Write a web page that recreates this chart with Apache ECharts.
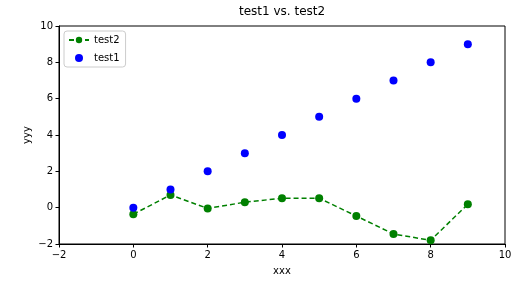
<!DOCTYPE html>
<html>
<head>
<meta charset="utf-8">
<script src="https://cdn.jsdelivr.net/npm/echarts@6/dist/echarts.min.js"></script>
<style>html,body{margin:0;padding:0;background:#fff;}#c{width:531px;height:282px;}</style>
</head>
<body>
<div id="c"></div>
<script>
var xs = [0, 1, 2, 3, 4, 5, 6, 7, 8, 9];
var test1 = [0, 1, 2, 3, 4, 5, 6, 7, 8, 9];
var test2 = [-0.36, 0.70, -0.04, 0.30, 0.52, 0.52, -0.46, -1.45, -1.80, 0.19];

function pairs(x, y) { return x.map(function (v, i) { return [v, y[i]]; }); }
function fmt(v) { return String(v).replace('-', '\u2212'); }

var font = 'DejaVu Sans';
var chart = echarts.init(document.getElementById('c'), null, {renderer: 'canvas'});
var axisCommon = {
  type: 'value', min: -2, max: 10, interval: 2,
  axisLine: {show: true, onZero: false, lineStyle: {color: '#000', width: 1}},
  axisTick: {show: true, inside: false, length: 3.5, lineStyle: {color: '#000'}},
  axisLabel: {color: '#000', fontSize: 10, fontFamily: font, margin: 6, formatter: fmt},
  splitLine: {show: false},
  nameMoveOverlap: false,
  nameTextStyle: {color: '#000', fontSize: 10, fontFamily: font}
};
chart.setOption({
  animation: false,
  backgroundColor: '#fff',
  title: {text: 'test1 vs. test2', left: 239, top: 6, padding: 0,
    textStyle: {fontSize: 12, fontWeight: 'normal', color: '#000', fontFamily: font}},
  grid: {left: 59, right: 26, top: 26, bottom: 38, outerBoundsMode: 'none', containLabel: false,
    show: true, borderColor: '#000', borderWidth: 1, backgroundColor: '#fff'},
  legend: {
    data: ['test2', 'test1'], orient: 'vertical', left: 64, top: 31,
    backgroundColor: '#fff', borderColor: '#ccc', borderWidth: 1, borderRadius: 3,
    padding: [4, 6, 4, 4], itemWidth: 20, itemHeight: 8, itemGap: 8,
    textStyle: {fontSize: 10, color: '#000', fontFamily: font}
  },
  xAxis: Object.assign({}, axisCommon, {name: 'xxx', nameLocation: 'middle', nameGap: 22}),
  yAxis: Object.assign({}, axisCommon, {name: 'yyy', nameLocation: 'middle', nameGap: 27, nameRotate: 90}),
  series: [
    {name: 'test2', type: 'line', data: pairs(xs, test2), symbol: 'circle', symbolSize: 8,
      itemStyle: {color: '#008000', opacity: 1}, lineStyle: {color: '#008000', type: [5, 3], width: 1.5}, z: 2},
    {name: 'test1', type: 'scatter', data: pairs(xs, test1), symbol: 'circle', symbolSize: 8,
      itemStyle: {color: '#0000ff', opacity: 1}, z: 3}
  ]
});
</script>
</body>
</html>
